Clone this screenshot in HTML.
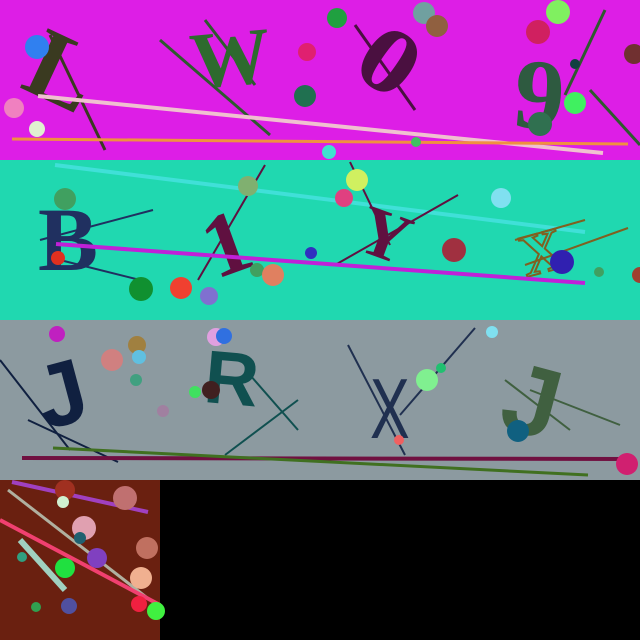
<!DOCTYPE html>
<html><head><meta charset="utf-8"><style>
html,body{margin:0;padding:0;background:#000;}
svg{display:block}
text{font-family:"Liberation Serif",serif;font-weight:bold}
</style></head><body>
<svg width="640" height="640" viewBox="0 0 640 640">
<rect x="0" y="0" width="640" height="640" fill="#000"/>
<g>
<rect x="0" y="0" width="640" height="160" fill="#dd1ee6"/>
<line x1="50" y1="35" x2="105" y2="150" stroke="#3a3a20" stroke-width="3"/>
<line x1="160" y1="40" x2="270" y2="135" stroke="#2e5a2e" stroke-width="3"/>
<line x1="205" y1="20" x2="255" y2="85" stroke="#2e5a2e" stroke-width="3"/>
<line x1="355" y1="25" x2="415" y2="110" stroke="#4a1040" stroke-width="3"/>
<line x1="565" y1="95" x2="605" y2="10" stroke="#2e5a2e" stroke-width="3"/>
<line x1="590" y1="90" x2="640" y2="145" stroke="#2e5a2e" stroke-width="3"/>
<text x="30" y="105" font-size="100" fill="#3a3a20" transform="rotate(25 65 70)">L</text>
<text x="190" y="85" font-size="80" fill="#2e6a2e" transform="rotate(-5 230 55)">W</text>
<text x="355" y="115" font-size="110" fill="#4a1040" transform="rotate(35 395 75) scale(1,0.85)">0</text>
<text x="515" y="130" font-size="100" fill="#2e5a40" transform="rotate(5 560 90)">9</text>
<line x1="38" y1="96" x2="603" y2="153" stroke="#f0c0d0" stroke-width="4"/>
<line x1="12" y1="139" x2="628" y2="144" stroke="#f09040" stroke-width="3"/>
<circle cx="37" cy="47" r="12" fill="#3080f0"/>
<circle cx="14" cy="108" r="10" fill="#f080c0"/>
<circle cx="37" cy="129" r="8" fill="#e0f0d0"/>
<circle cx="337" cy="18" r="10" fill="#20a040"/>
<circle cx="307" cy="52" r="9" fill="#e02070"/>
<circle cx="305" cy="96" r="11" fill="#207050"/>
<circle cx="424" cy="13" r="11" fill="#70a0a0"/>
<circle cx="437" cy="26" r="11" fill="#906040"/>
<circle cx="558" cy="12" r="12" fill="#80f060"/>
<circle cx="538" cy="32" r="12" fill="#d02060"/>
<circle cx="575" cy="103" r="11" fill="#40f060"/>
<circle cx="540" cy="124" r="12" fill="#307050"/>
<circle cx="575" cy="64" r="5" fill="#104040"/>
<circle cx="634" cy="54" r="10" fill="#703030"/>
<circle cx="416" cy="142" r="5" fill="#40c060"/>
<circle cx="329" cy="152" r="7" fill="#40e0d0"/>
</g>
<g>
<rect x="0" y="160" width="640" height="160" fill="#20d8b0"/>
<line x1="55" y1="165" x2="585" y2="232" stroke="#40e0d8" stroke-width="4"/>
<line x1="40" y1="240" x2="153" y2="210" stroke="#203060" stroke-width="2"/>
<line x1="60" y1="260" x2="140" y2="280" stroke="#203060" stroke-width="2"/>
<line x1="198" y1="280" x2="265" y2="165" stroke="#601040" stroke-width="2"/>
<line x1="335" y1="265" x2="458" y2="195" stroke="#601040" stroke-width="2"/>
<line x1="350" y1="162" x2="390" y2="245" stroke="#601040" stroke-width="2"/>
<line x1="515" y1="240" x2="585" y2="220" stroke="#806020" stroke-width="2"/>
<line x1="525" y1="265" x2="628" y2="228" stroke="#806020" stroke-width="2"/>
<text x="38" y="270" font-size="90" fill="#203060">B</text>
<text x="200" y="270" font-size="90" fill="#601040" transform="rotate(-20 235 230)">1</text>
<text x="360" y="260" font-size="70" fill="#601040" transform="rotate(20 390 235)">Y</text>
<text x="520" y="270" font-size="60" fill="none" stroke="#806020" stroke-width="2" transform="rotate(-15 550 250)">X</text>
<line x1="56" y1="244" x2="585" y2="283" stroke="#c020d8" stroke-width="4"/>
<circle cx="65" cy="199" r="11" fill="#40a060"/>
<circle cx="58" cy="258" r="7" fill="#e03020"/>
<circle cx="141" cy="289" r="12" fill="#109030"/>
<circle cx="181" cy="288" r="11" fill="#f04030"/>
<circle cx="209" cy="296" r="9" fill="#8070d0"/>
<circle cx="248" cy="186" r="10" fill="#80b070"/>
<circle cx="257" cy="270" r="7" fill="#40a060"/>
<circle cx="273" cy="275" r="11" fill="#e08060"/>
<circle cx="311" cy="253" r="6" fill="#3030c0"/>
<circle cx="357" cy="180" r="11" fill="#d0f060"/>
<circle cx="344" cy="198" r="9" fill="#e04080"/>
<circle cx="454" cy="250" r="12" fill="#a03040"/>
<circle cx="501" cy="198" r="10" fill="#80e0f0"/>
<circle cx="562" cy="262" r="12" fill="#3020b0"/>
<circle cx="599" cy="272" r="5" fill="#40a060"/>
<circle cx="640" cy="275" r="8" fill="#a04030"/>
</g>
<g>
<rect x="0" y="320" width="640" height="160" fill="#8c9aa0"/>
<line x1="0" y1="360" x2="70" y2="450" stroke="#102040" stroke-width="2"/>
<line x1="28" y1="420" x2="118" y2="462" stroke="#102040" stroke-width="2"/>
<line x1="225" y1="455" x2="298" y2="400" stroke="#105050" stroke-width="2"/>
<line x1="250" y1="375" x2="298" y2="430" stroke="#105050" stroke-width="2"/>
<line x1="348" y1="345" x2="405" y2="455" stroke="#203050" stroke-width="2"/>
<line x1="400" y1="415" x2="475" y2="328" stroke="#203050" stroke-width="2"/>
<line x1="505" y1="380" x2="570" y2="430" stroke="#406040" stroke-width="2"/>
<line x1="530" y1="390" x2="620" y2="425" stroke="#406040" stroke-width="2"/>
<text x="35" y="425" font-size="90" fill="#102040" style="font-family:'Liberation Sans',sans-serif" transform="rotate(-15 60 390)">J</text>
<text x="205" y="405" font-size="75" fill="#105050" style="font-family:'Liberation Sans',sans-serif" transform="rotate(5 240 375)">R</text>
<text x="370" y="438" font-size="85" fill="#203050" style="font-family:'Liberation Sans',sans-serif;font-weight:normal" transform="translate(370 0) scale(0.7 1) translate(-370 0)">X</text>
<text x="505" y="440" font-size="100" fill="#406040" style="font-family:'Liberation Sans',sans-serif" transform="rotate(15 550 400)">J</text>
<line x1="22" y1="458" x2="628" y2="459" stroke="#701040" stroke-width="4"/>
<line x1="53" y1="448" x2="588" y2="475" stroke="#407020" stroke-width="3"/>
<circle cx="57" cy="334" r="8" fill="#c020c0"/>
<circle cx="112" cy="360" r="11" fill="#d08080"/>
<circle cx="137" cy="345" r="9" fill="#a08040"/>
<circle cx="139" cy="357" r="7" fill="#60c0e0"/>
<circle cx="136" cy="380" r="6" fill="#40a080"/>
<circle cx="163" cy="411" r="6" fill="#a080a0"/>
<circle cx="195" cy="392" r="6" fill="#40e060"/>
<circle cx="211" cy="390" r="9" fill="#402020"/>
<circle cx="216" cy="337" r="9" fill="#e0a0e0"/>
<circle cx="224" cy="336" r="8" fill="#3070e0"/>
<circle cx="427" cy="380" r="11" fill="#80f090"/>
<circle cx="441" cy="368" r="5" fill="#20c070"/>
<circle cx="399" cy="440" r="5" fill="#f06060"/>
<circle cx="492" cy="332" r="6" fill="#80e0f0"/>
<circle cx="518" cy="431" r="11" fill="#106080"/>
<circle cx="627" cy="464" r="11" fill="#d02070"/>
</g>
<g>
<rect x="0" y="480" width="160" height="160" fill="#6a2010"/>
<line x1="12" y1="482" x2="148" y2="512" stroke="#a040c0" stroke-width="4"/>
<line x1="8" y1="490" x2="150" y2="600" stroke="#b0b0a0" stroke-width="3"/>
<line x1="20" y1="540" x2="65" y2="590" stroke="#a0d0c0" stroke-width="6"/>
<line x1="0" y1="520" x2="160" y2="605" stroke="#f04070" stroke-width="4"/>
<circle cx="65" cy="490" r="10" fill="#a03020"/>
<circle cx="125" cy="498" r="12" fill="#c07070"/>
<circle cx="63" cy="502" r="6" fill="#d0f0d0"/>
<circle cx="84" cy="528" r="12" fill="#e0a0b0"/>
<circle cx="80" cy="538" r="6" fill="#206070"/>
<circle cx="22" cy="557" r="5" fill="#30a080"/>
<circle cx="97" cy="558" r="10" fill="#8040c0"/>
<circle cx="65" cy="568" r="10" fill="#20e040"/>
<circle cx="147" cy="548" r="11" fill="#c07060"/>
<circle cx="141" cy="578" r="11" fill="#f0b090"/>
<circle cx="69" cy="606" r="8" fill="#5050a0"/>
<circle cx="36" cy="607" r="5" fill="#30a050"/>
<circle cx="139" cy="604" r="8" fill="#f02040"/>
<circle cx="156" cy="611" r="9" fill="#40f040"/>
</g>
</svg>
</body></html>
